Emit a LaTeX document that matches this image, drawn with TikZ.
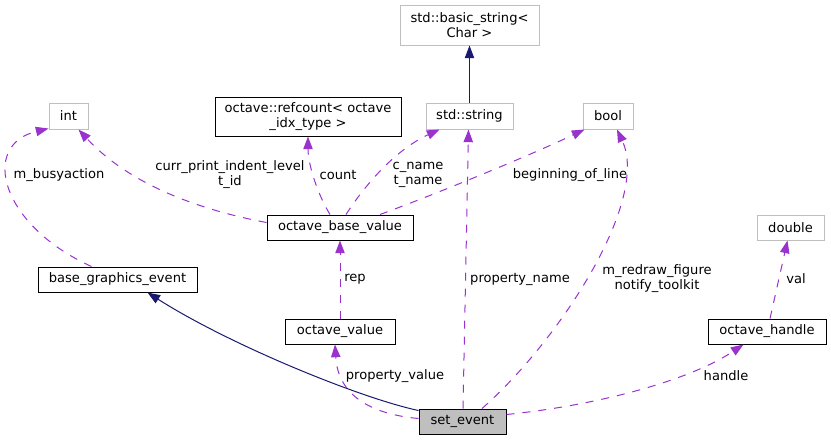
\documentclass[tikz,border=0pt]{standalone}
\usepackage{fontspec}
\setmainfont{DejaVu Sans}
\usetikzlibrary{arrows.meta,calc}
\definecolor{edgeblue}{HTML}{191970}
\definecolor{edgepurple}{HTML}{9A32CD}
\definecolor{boxgray}{HTML}{BFBFBF}
\begin{document}
\begin{tikzpicture}[x=0.75pt,y=-0.75pt,
  box/.style={draw=black, line width=0.75pt, inner sep=0pt, align=center,
    font=\fontsize{9.8pt}{11.25pt}\selectfont},
  extbox/.style={box, draw=boxgray},
  lbl/.style={inner sep=0pt, align=center, font=\fontsize{9.8pt}{11.25pt}\selectfont},
  inh/.style={draw=edgeblue, line width=0.75pt, -{Triangle[length=9.5pt,width=7pt]}},
  use/.style={draw=edgepurple, line width=0.75pt, dash pattern=on 6pt off 6pt,
    -{Triangle[length=9.5pt,width=7pt]}}]
\useasboundingbox (0,0) rectangle (831,440);

% nodes
\node[extbox, minimum width=104.25pt, minimum height=30pt] (basic) at (469.5,25) {std::basic\_string<\\Char >};
\node[extbox, minimum width=29.25pt, minimum height=19.5pt] (int) at (68.5,116) {int};
\node[box, minimum width=139.5pt, minimum height=29.25pt] (ref) at (308,116.5) {octave::refcount< octave\\\_idx\_type >};
\node[extbox, minimum width=65.25pt, minimum height=19.5pt] (str) at (469.5,116) {std::string};
\node[extbox, minimum width=37.5pt, minimum height=19.5pt] (bool) at (608,116) {bool};
\node[box, minimum width=109.5pt, minimum height=18.75pt] (obv) at (340,227.5) {octave\_base\_value};
\node[box, minimum width=119.25pt, minimum height=18.75pt] (bge) at (117.5,279.5) {base\_graphics\_event};
\node[extbox, minimum width=50.25pt, minimum height=18.75pt] (dbl) at (790.5,227.5) {double};
\node[box, minimum width=82.5pt, minimum height=18.75pt] (ov) at (340,331.5) {octave\_value};
\node[box, minimum width=88.5pt, minimum height=18.75pt] (oh) at (767,331.5) {octave\_handle};
\node[box, fill=boxgray, minimum width=65.25pt, minimum height=18.75pt] (set) at (462.5,421.5) {set\_event};

% inheritance edges
\draw[inh] ($(set.north west)+(0,2)$) .. controls (360,398) and (230,345) .. ($(bge.south west)+(110,0)$);
\draw[inh] (str.north) -- (basic.south);

% usage edges
\draw[use] ($(set.west)+(0,-3)$) .. controls (370,414) and (338,395) .. ($(ov.south)+(-5,0)$);
\node[lbl] (l_pv) at (395,376) {property\_value};

\draw[use] (ov.north) -- (obv.south);
\node[lbl] (l_rep) at (355,279) {rep};

\draw[use] ($(set.north)+(0.5,0)$) -- ($(str.south)+(-1,0)$);
\node[lbl] (l_pn) at (520,279) {property\_name};

\draw[use] ($(set.north)+(19.5,0)$) .. controls (560,340) and (650,200) .. ($(bool.south)+(9,0)$);
\node[lbl] (l_mr) at (657,279) {m\_redraw\_figure\\notify\_toolkit};

\draw[use] ($(set.east)+(0,-7)$) .. controls (600,405) and (690,380) .. ($(oh.south west)+(36,0)$);
\node[lbl] (l_h) at (726,376) {handle};

\draw[use] ($(oh.north)+(3,0)$) -- ($(dbl.south)+(-3,0)$);
\node[lbl] (l_val) at (796,279) {val};

\draw[use] ($(obv.west)+(0,-5)$) .. controls (200,210) and (130,185) .. ($(int.south east)+(-10,0)$);
\node[lbl] (l_cp) at (230,175) {curr\_print\_indent\_level\\t\_id};

\draw[use] ($(bge.north west)+(54,0)$) .. controls (0,225) and (-20,145) .. ($(int.south west)+(0,-1)$);
\node[lbl] (l_mb) at (59,175) {m\_busyaction};

\draw[use] ($(obv.north)+(-10,0)$) .. controls (318,195) and (308,165) .. (ref.south);
\node[lbl] (l_cnt) at (338,175) {count};

\draw[use] ($(obv.north)+(6,0)$) .. controls (365,185) and (395,150) .. ($(str.south west)+(14,0)$);
\node[lbl] (l_cn) at (418,175) {c\_name\\t\_name};

\draw[use] ($(obv.north)+(40,0)$) .. controls (420,200) and (520,160) .. ($(bool.south west)+(2,0)$);
\node[lbl] (l_bol) at (570,175) {beginning\_of\_line};
\end{tikzpicture}
\end{document}
